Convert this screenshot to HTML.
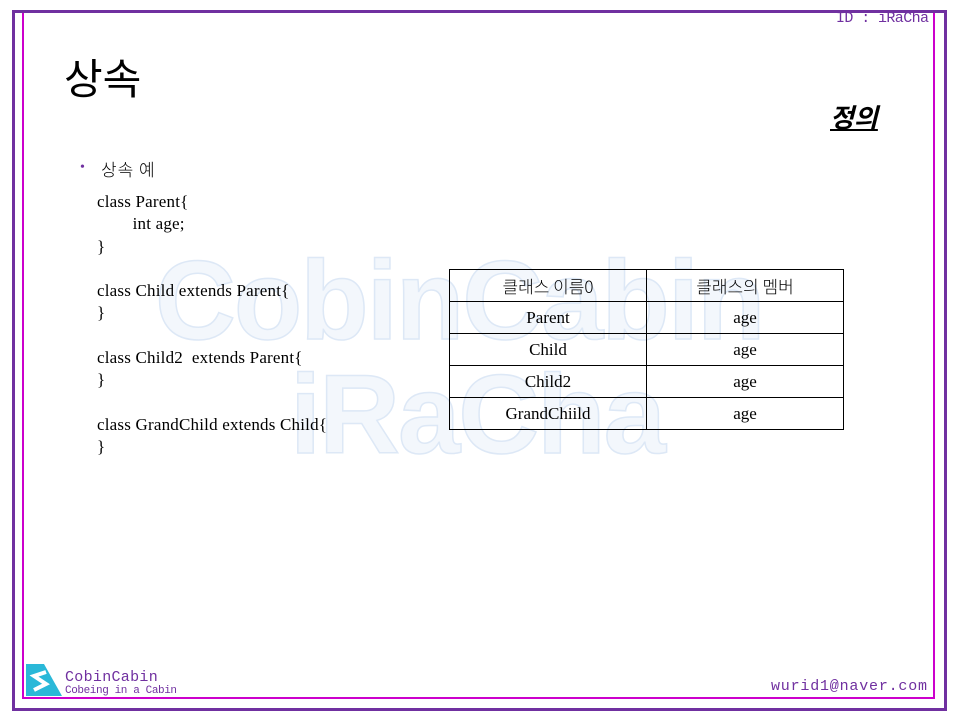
<!DOCTYPE html>
<html><head><meta charset="utf-8"><style>
body{margin:0;width:960px;height:720px;background:#fff;position:relative;overflow:hidden;font-family:"Liberation Serif","Noto Serif CJK SC",serif}
.a{position:absolute}
.wm{position:absolute;font-family:"Liberation Sans",sans-serif;font-weight:bold;color:#f3f7fc;-webkit-text-stroke:1.5px #dde8f6;white-space:nowrap;letter-spacing:-2px}
td{border:1px solid #000;text-align:center;font-size:17px;height:31px;padding:0}
table{border-collapse:collapse}
.code{font-size:17px;line-height:22.3px;letter-spacing:0.2px}
</style></head><body>
<div class="wm" style="left:155px;top:236px;font-size:112px">CobinCabin</div>
<div class="wm" style="left:290px;top:350px;font-size:112px">iRaCha</div>
<div class="a" style="left:12px;top:10px;width:929px;height:695px;border:3px solid #7030a0"></div>
<div class="a" style="left:22px;top:13px;width:2px;height:686px;background:#cc00cc"></div>
<div class="a" style="left:933px;top:13px;width:2px;height:686px;background:#cc00cc"></div>
<div class="a" style="left:22px;top:697px;width:913px;height:2px;background:#cc00cc"></div>
<div class="a" style="left:836px;top:10px;font-family:'Liberation Mono',monospace;font-size:15px;letter-spacing:-0.6px;color:#7030a0">ID : iRaCha</div>
<div class="a" style="left:64px;top:46px;font-size:42px;font-family:'Noto Sans CJK KR',sans-serif">상속</div>
<div class="a" style="left:830px;top:98px;font-size:26px;font-weight:bold;font-style:italic;text-decoration:underline;font-family:'Noto Sans CJK KR',sans-serif">정의</div>
<div class="a" style="left:80px;top:160px;color:#7030a0;font-size:14px">•</div>
<div class="a" style="left:101px;top:156px;font-size:17px;letter-spacing:1px;font-family:'Noto Sans CJK KR',sans-serif;font-weight:300">상속 예</div>
<div class="a code" style="left:97px;top:191px">class Parent{<br>&nbsp;&nbsp;&nbsp;&nbsp;&nbsp;&nbsp;&nbsp;&nbsp;int age;<br>}<br><br>class Child extends Parent{<br>}<br><br>class Child2&nbsp; extends Parent{<br>}<br><br>class GrandChild extends Child{<br>}</div>
<table class="a" style="left:449px;top:269px;width:395px">
<tr><td style="width:196px;font-family:'Noto Sans CJK KR',sans-serif;font-weight:300">클래스 이름0</td><td style="font-family:'Noto Sans CJK KR',sans-serif;font-weight:300">클래스의 멤버</td></tr>
<tr><td>Parent</td><td>age</td></tr>
<tr><td>Child</td><td>age</td></tr>
<tr><td>Child2</td><td>age</td></tr>
<tr><td>GrandChiild</td><td>age</td></tr>
</table>
<svg class="a" style="left:24px;top:662px" width="40" height="36"><polygon points="2,2 20,2 38,34 2,34" fill="#2ab8d8"/><path d="M22,10 L10,14 L22,22 L10,28" stroke="#fff" stroke-width="4" fill="none"/></svg>
<div class="a" style="left:65px;top:669px;font-family:'Liberation Mono',monospace;font-size:15px;letter-spacing:0.3px;color:#7030a0">CobinCabin</div>
<div class="a" style="left:65px;top:685px;font-family:'Liberation Mono',monospace;font-size:11px;letter-spacing:-0.4px;color:#7030a0">Cobeing in a Cabin</div>
<div class="a" style="left:771px;top:678px;font-family:'Liberation Mono',monospace;font-size:15px;letter-spacing:0.8px;color:#7030a0">wurid1@naver.com</div>
</body></html>
